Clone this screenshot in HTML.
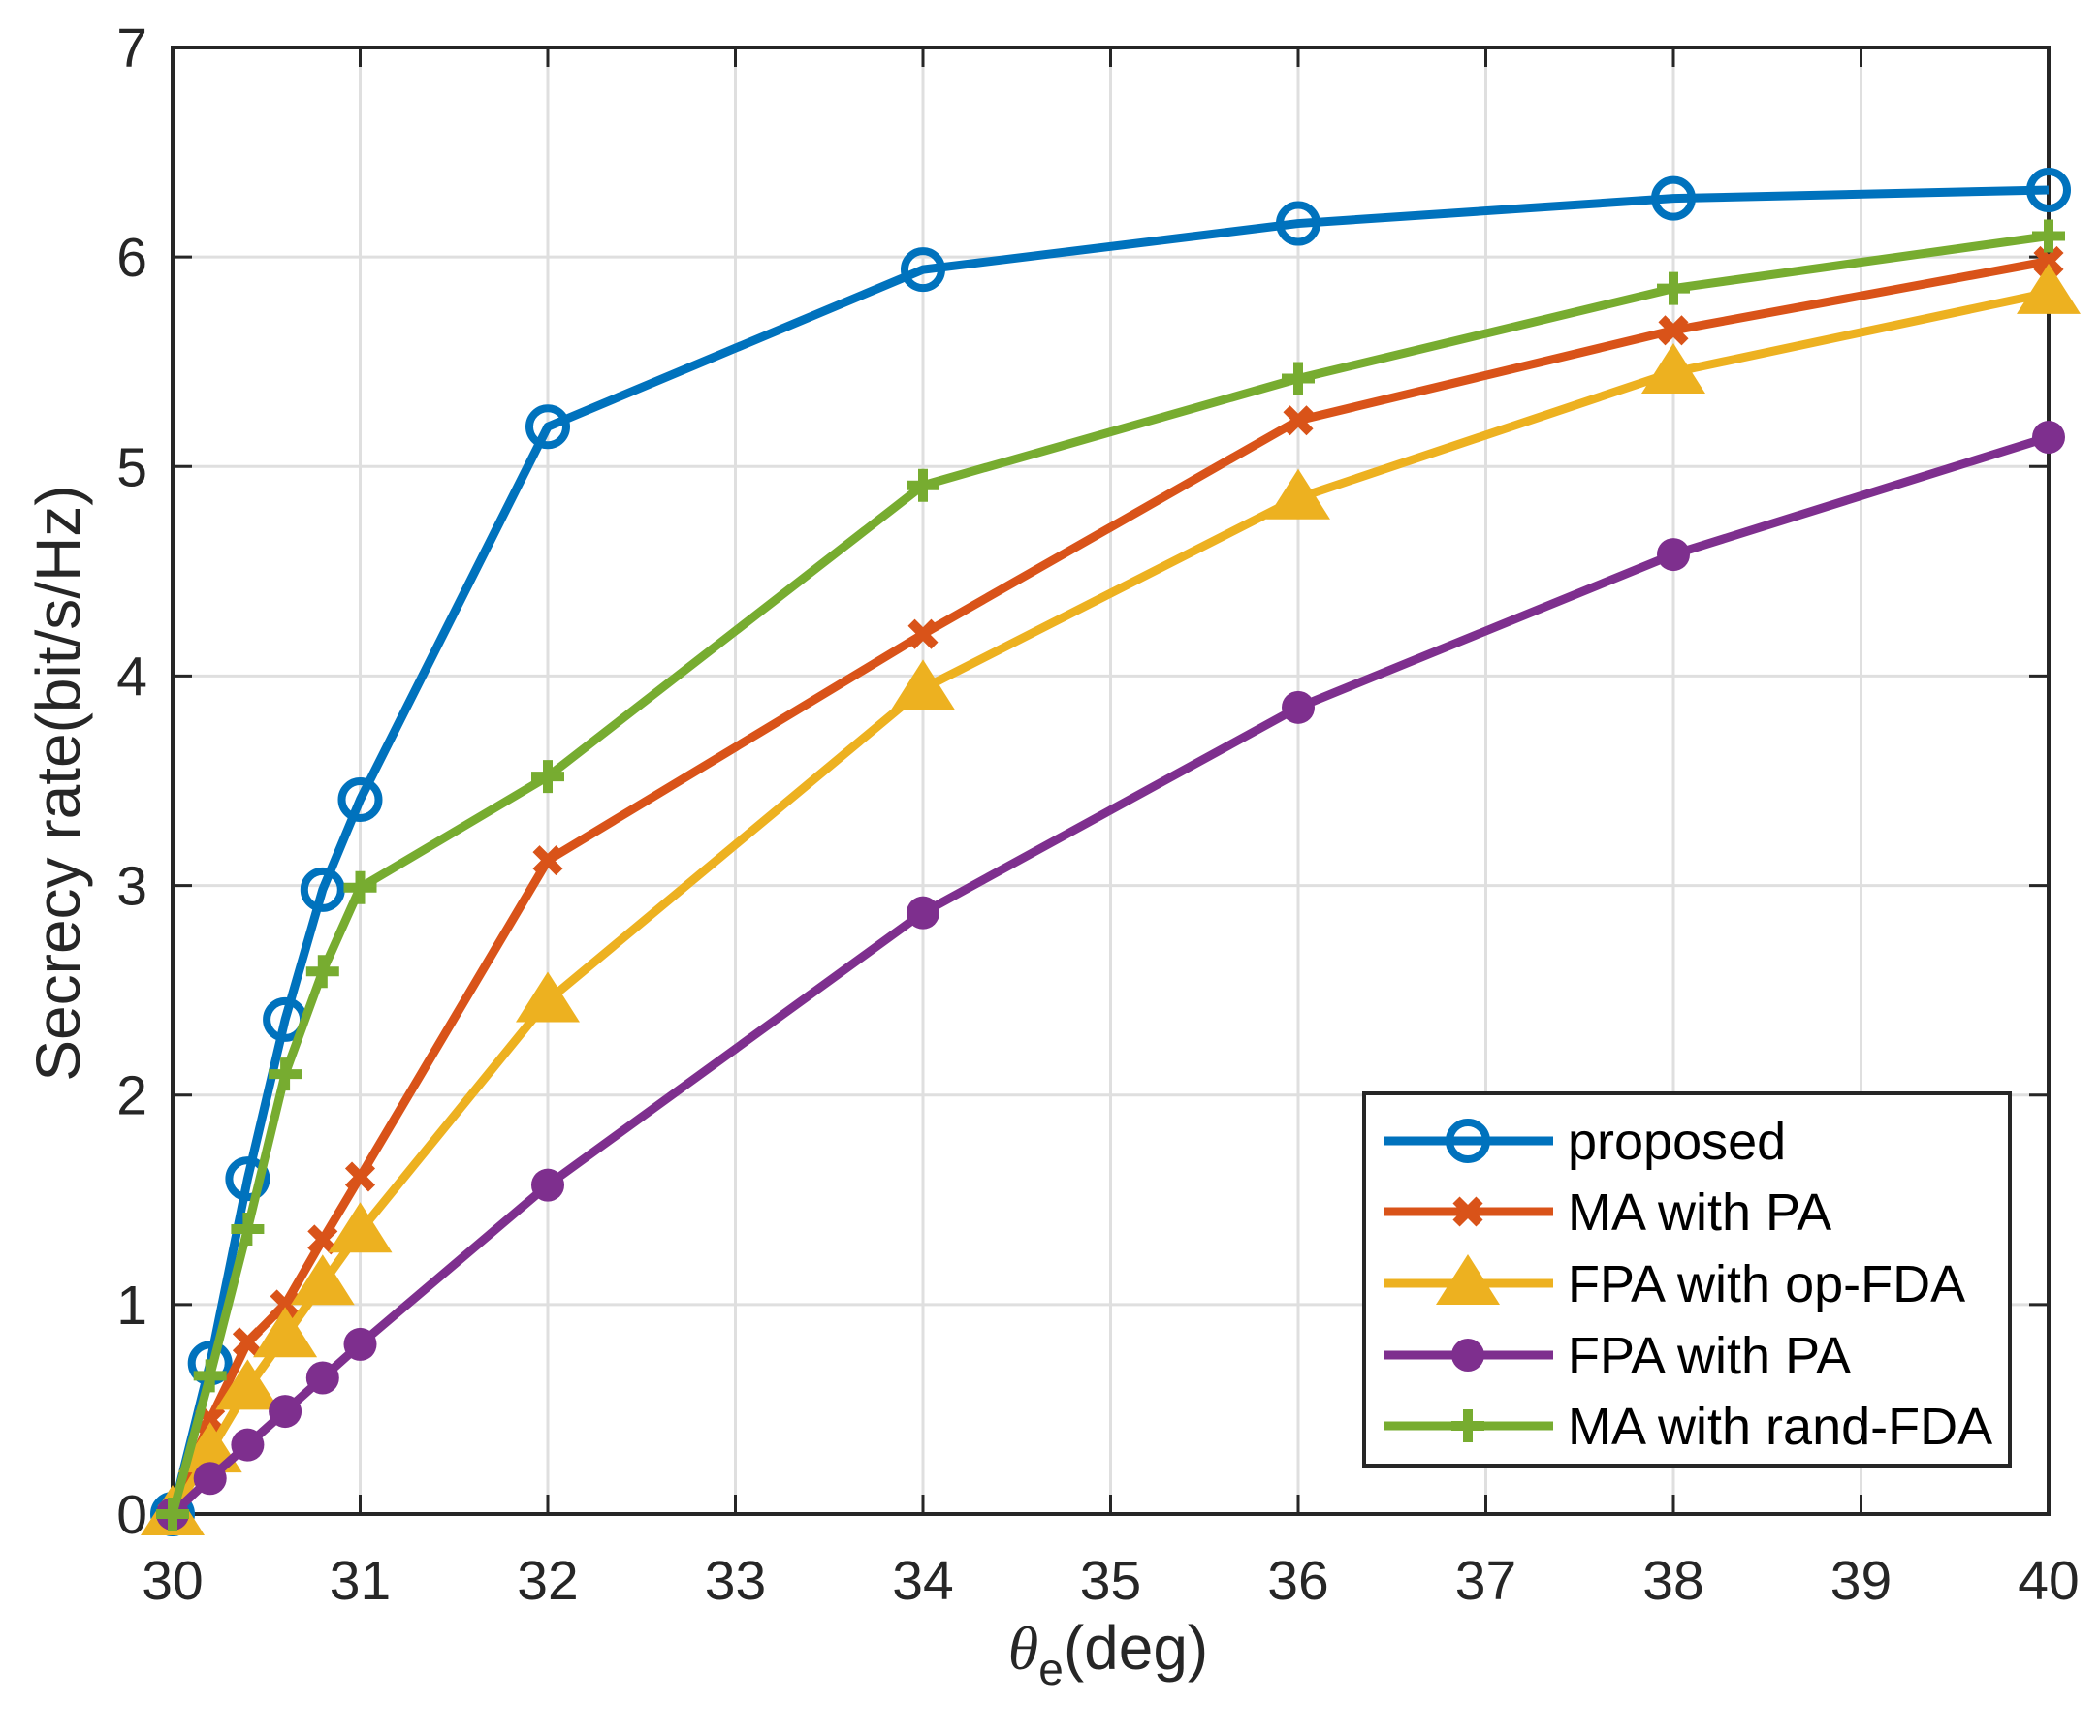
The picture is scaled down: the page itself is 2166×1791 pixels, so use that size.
<!DOCTYPE html>
<html><head><meta charset="utf-8"><style>
html,body{margin:0;padding:0;background:#fff;}
svg{display:block;font-family:"Liberation Sans",Arial,sans-serif;}
</style></head><body>
<svg id="chart" width="2166" height="1791" viewBox="0 0 2166 1791" xmlns="http://www.w3.org/2000/svg">
<g id="grid"></g>
<g id="axes"></g>
<g id="series"></g>
<g id="legend"></g>
</svg>
<script>
const xValues = [30, 30.2, 30.4, 30.6, 30.8, 31, 32, 34, 36, 38, 40];
const proposed = [0, 0.72, 1.6, 2.36, 2.98, 3.41, 5.19, 5.94, 6.16, 6.28, 6.32];
const maWithPa = [0, 0.45, 0.82, 1.0, 1.31, 1.61, 3.12, 4.2, 5.22, 5.65, 5.98];
const fpaOpFda = [0, 0.3, 0.6, 0.85, 1.1, 1.35, 2.45, 3.94, 4.85, 5.45, 5.83];
const fpaWithPa = [0, 0.17, 0.33, 0.49, 0.65, 0.81, 1.57, 2.87, 3.85, 4.58, 5.14];
const maRandFda = [0, 0.66, 1.36, 2.1, 2.59, 2.99, 3.52, 4.91, 5.42, 5.85, 6.1];
const seriesNames = ["proposed", "MA with PA", "FPA with op-FDA", "FPA with PA", "MA with rand-FDA"];
const xTicks = [30,31,32,33,34,35,36,37,38,39,40];
const yTicks = [0,1,2,3,4,5,6,7];

const NS = "http://www.w3.org/2000/svg";
const L = 178, R = 2113, T = 49, B = 1562;
const xMin = 30, xMax = 40, yMin = 0, yMax = 7;
function xs(v){ return L + (v - xMin) / (xMax - xMin) * (R - L); }
function ys(v){ return B - (v - yMin) / (yMax - yMin) * (B - T); }
function mk(tag, attrs, parent){
  const e = document.createElementNS(NS, tag);
  for (const k in attrs) e.setAttribute(k, attrs[k]);
  parent.appendChild(e); return e;
}
const grid = document.getElementById('grid');
const axes = document.getElementById('axes');
const seriesG = document.getElementById('series');
const legend = document.getElementById('legend');

xTicks.forEach(t => {
  const x = xs(t);
  const g = mk('line', {x1:x, x2:x, y1:T, y2:B, stroke:'#dfdfdf', 'stroke-width':3}, grid);
  
  
  mk('line', {x1:x, x2:x, y1:B, y2:B-20, stroke:'#262626', 'stroke-width':3}, axes);
  mk('line', {x1:x, x2:x, y1:T, y2:T+20, stroke:'#262626', 'stroke-width':3}, axes);
  const tx = mk('text', {x:x, y:1650, 'font-size':57, fill:'#262626', 'text-anchor':'middle'}, axes);
  tx.textContent = t;
  
  
});
yTicks.forEach(t => {
  const y = ys(t);
  const g = mk('line', {x1:L, x2:R, y1:y, y2:y, stroke:'#dfdfdf', 'stroke-width':3}, grid);
  
  
  mk('line', {x1:L, x2:L+20, y1:y, y2:y, stroke:'#262626', 'stroke-width':3}, axes);
  mk('line', {x1:R, x2:R-20, y1:y, y2:y, stroke:'#262626', 'stroke-width':3}, axes);
  const tx = mk('text', {x:152, y:y+20, 'font-size':57, fill:'#262626', 'text-anchor':'end'}, axes);
  tx.textContent = t;
  
  
});
const frame = mk('rect', {x:L, y:T, width:R-L, height:B-T, fill:'none', stroke:'#262626', 'stroke-width':4}, axes);



const yl = mk('text', {x:0, y:0, 'font-size':64, fill:'#262626', 'text-anchor':'middle', transform:'translate(82,808) rotate(-90)'}, axes);
yl.textContent = 'Secrecy rate(bit/s/Hz)';


const xl = mk('text', {x:1143, y:1722, 'font-size':64, fill:'#262626', 'text-anchor':'middle'}, axes);
xl.innerHTML = '<tspan font-family="Liberation Serif" font-style="italic">θ</tspan><tspan font-size="46" dy="16">e</tspan><tspan dy="-16">(deg)</tspan>';



const colors = ['#0072BD','#D95319','#EDB120','#7E2F8E','#77AC30'];
const allData = [proposed, maWithPa, fpaOpFda, fpaWithPa, maRandFda];
const markerTypes = ['circle','x','triangle','dot','plus'];

function marker(type, x, y, c, parent){
  let m;
  if (type === 'circle') m = mk('circle', {cx:x, cy:y, r:19, fill:'none', stroke:c, 'stroke-width':8}, parent);
  else if (type === 'dot') m = mk('circle', {cx:x, cy:y, r:17, fill:c}, parent);
  else if (type === 'triangle') m = mk('polygon', {points:`${x},${y-30} ${x-33},${y+22} ${x+33},${y+22}`, fill:c}, parent);
  else if (type === 'x') m = mk('path', {d:`M${x-12},${y-12}L${x+12},${y+12}M${x-12},${y+12}L${x+12},${y-12}`, stroke:c, 'stroke-width':10}, parent);
  else m = mk('path', {d:`M${x-17},${y}L${x+17},${y}M${x},${y-17}L${x},${y+17}`, stroke:c, 'stroke-width':10}, parent);
  return m;
}

allData.forEach((data, i) => {
  const g = mk('g', {}, seriesG);
  
  
  const pts = data.map((v, j) => xs(xValues[j]) + ',' + ys(v)).join(' ');
  const pl = mk('polyline', {points:pts, fill:'none', stroke:colors[i], 'stroke-width':9, 'stroke-linejoin':'round'}, g);
  
  
  data.forEach((v, j) => {
    const m = marker(markerTypes[i], xs(xValues[j]), ys(v), colors[i], g);
    
    
  });
});

const lb = mk('rect', {x:1407, y:1128, width:666, height:384, fill:'#fff', stroke:'#262626', 'stroke-width':4}, legend);


const legY = [1177, 1250, 1324, 1398, 1471];
seriesNames.forEach((n, i) => {
  const g = mk('g', {}, legend);
  
  
  mk('line', {x1:1427, x2:1602, y1:legY[i], y2:legY[i], stroke:colors[i], 'stroke-width':9}, g);
  marker(markerTypes[i], 1514, legY[i], colors[i], g);
  const t = mk('text', {x:1617, y:legY[i]+19, 'font-size':54, fill:'#000'}, g);
  t.textContent = n;
});
</script>
</body></html>
